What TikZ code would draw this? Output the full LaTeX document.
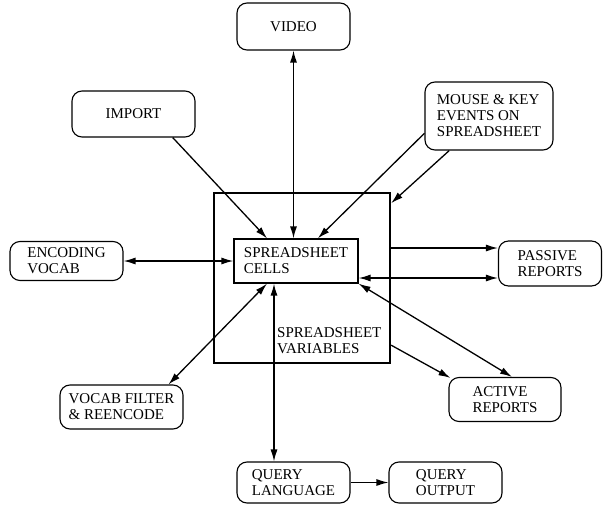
\documentclass[tikz,border=0pt]{standalone}
\usepackage{fontspec}
\setmainfont{Liberation Serif}
\usetikzlibrary{arrows.meta,positioning}
\tikzset{
	box/.style = {draw, rounded corners = 10pt, line width = 1.1pt, align = left, inner sep = 0pt,
		font = \fontsize{15}{16}\selectfont},
	cellbox/.style = {draw, line width = 1.2pt, align = left, inner sep = 0pt,
		font = \fontsize{15}{16}\selectfont},
	varbox/.style = {draw, line width = 2.2pt, inner sep = 0pt},
	arr/.style = {-{Latex[length=12pt, width=7pt]}, line width = 1.3pt},
	biarr/.style = {{Latex[length=12pt, width=7pt]}-{Latex[length=12pt, width=7pt]}, line width = 1.3pt}
}
\begin{document}
\begin{tikzpicture}[x = 1pt, y = -1pt]
			\useasboundingbox (0, 0) rectangle (603, 506);

			% centre
			\node [varbox, minimum width = 176pt, minimum height = 170pt] (var) at (302, 278) {};
			\node [cellbox, minimum width = 124pt, minimum height = 44pt] (cells) at (296, 261) {SPREADSHEET\\CELLS};
			\node [anchor = west, align = left, inner sep = 0pt, font = \fontsize{15}{16}\selectfont]
				(vartext) at (277, 341) {SPREADSHEET\\VARIABLES};

			% outer boxes
			\node [box, minimum width = 113pt, minimum height = 47pt] (video) at (293.5, 26.5) {VIDEO};
			\node [box, minimum width = 123pt, minimum height = 46pt] (import) at (133.5, 114) {IMPORT};
			\node [box, minimum width = 128pt, minimum height = 68pt] (mouse) at (489, 116) {MOUSE \& KEY\\EVENTS ON\\SPREADSHEET};
			\node [box, minimum width = 113pt, minimum height = 39pt] (encoding) at (66.5, 261) {ENCODING\\VOCAB};
			\node [box, minimum width = 103pt, minimum height = 45pt] (passive) at (550, 263.5) {PASSIVE\\REPORTS};
			\node [box, minimum width = 112pt, minimum height = 44pt] (active) at (505, 399.5) {ACTIVE\\REPORTS};
			\node [box, minimum width = 123pt, minimum height = 44pt] (filter) at (121.5, 407) {VOCAB FILTER\\\& REENCODE};
			\node [box, minimum width = 113pt, minimum height = 41pt] (qlang) at (293.5, 482.5) {QUERY\\LANGUAGE};
			\node [box, minimum width = 113pt, minimum height = 41pt] (qout) at (445.5, 482.5) {QUERY\\OUTPUT};

			\coordinate (p1) at ([yshift = 15.5pt]passive.west);
			\coordinate (p2) at ([yshift = -14.5pt]passive.west);
			\coordinate (c1) at ([xshift = -22pt]cells.south);

			\draw [biarr] (video.south) -- (video.south |- cells.north);
			\draw [arr] (import.-31) -- (cells.142);
			\draw [arr] (mouse.195) -- (cells.46);
			\draw [arr] (mouse.221) -- (var.40);
			\draw [biarr] (encoding.east) -- (cells.west);
			\draw [arr] (var.east |- p1) -- (p1);
			\draw [biarr] (cells.east |- p2) -- (p2);
			\draw [biarr] (cells.south east) -- ([xshift = 7pt]active.north);
			\draw [arr] (var.-37) -- ([xshift = 2pt, yshift = -1pt]active.north west);
			\draw [biarr] ([xshift = 47pt]filter.north) -- ([xshift = -29pt]cells.south);
			\draw [biarr] (c1) -- (c1 |- qlang.north);
			\draw [arr] (qlang.east) -- (qout.west);
		\end{tikzpicture}
\end{document}
